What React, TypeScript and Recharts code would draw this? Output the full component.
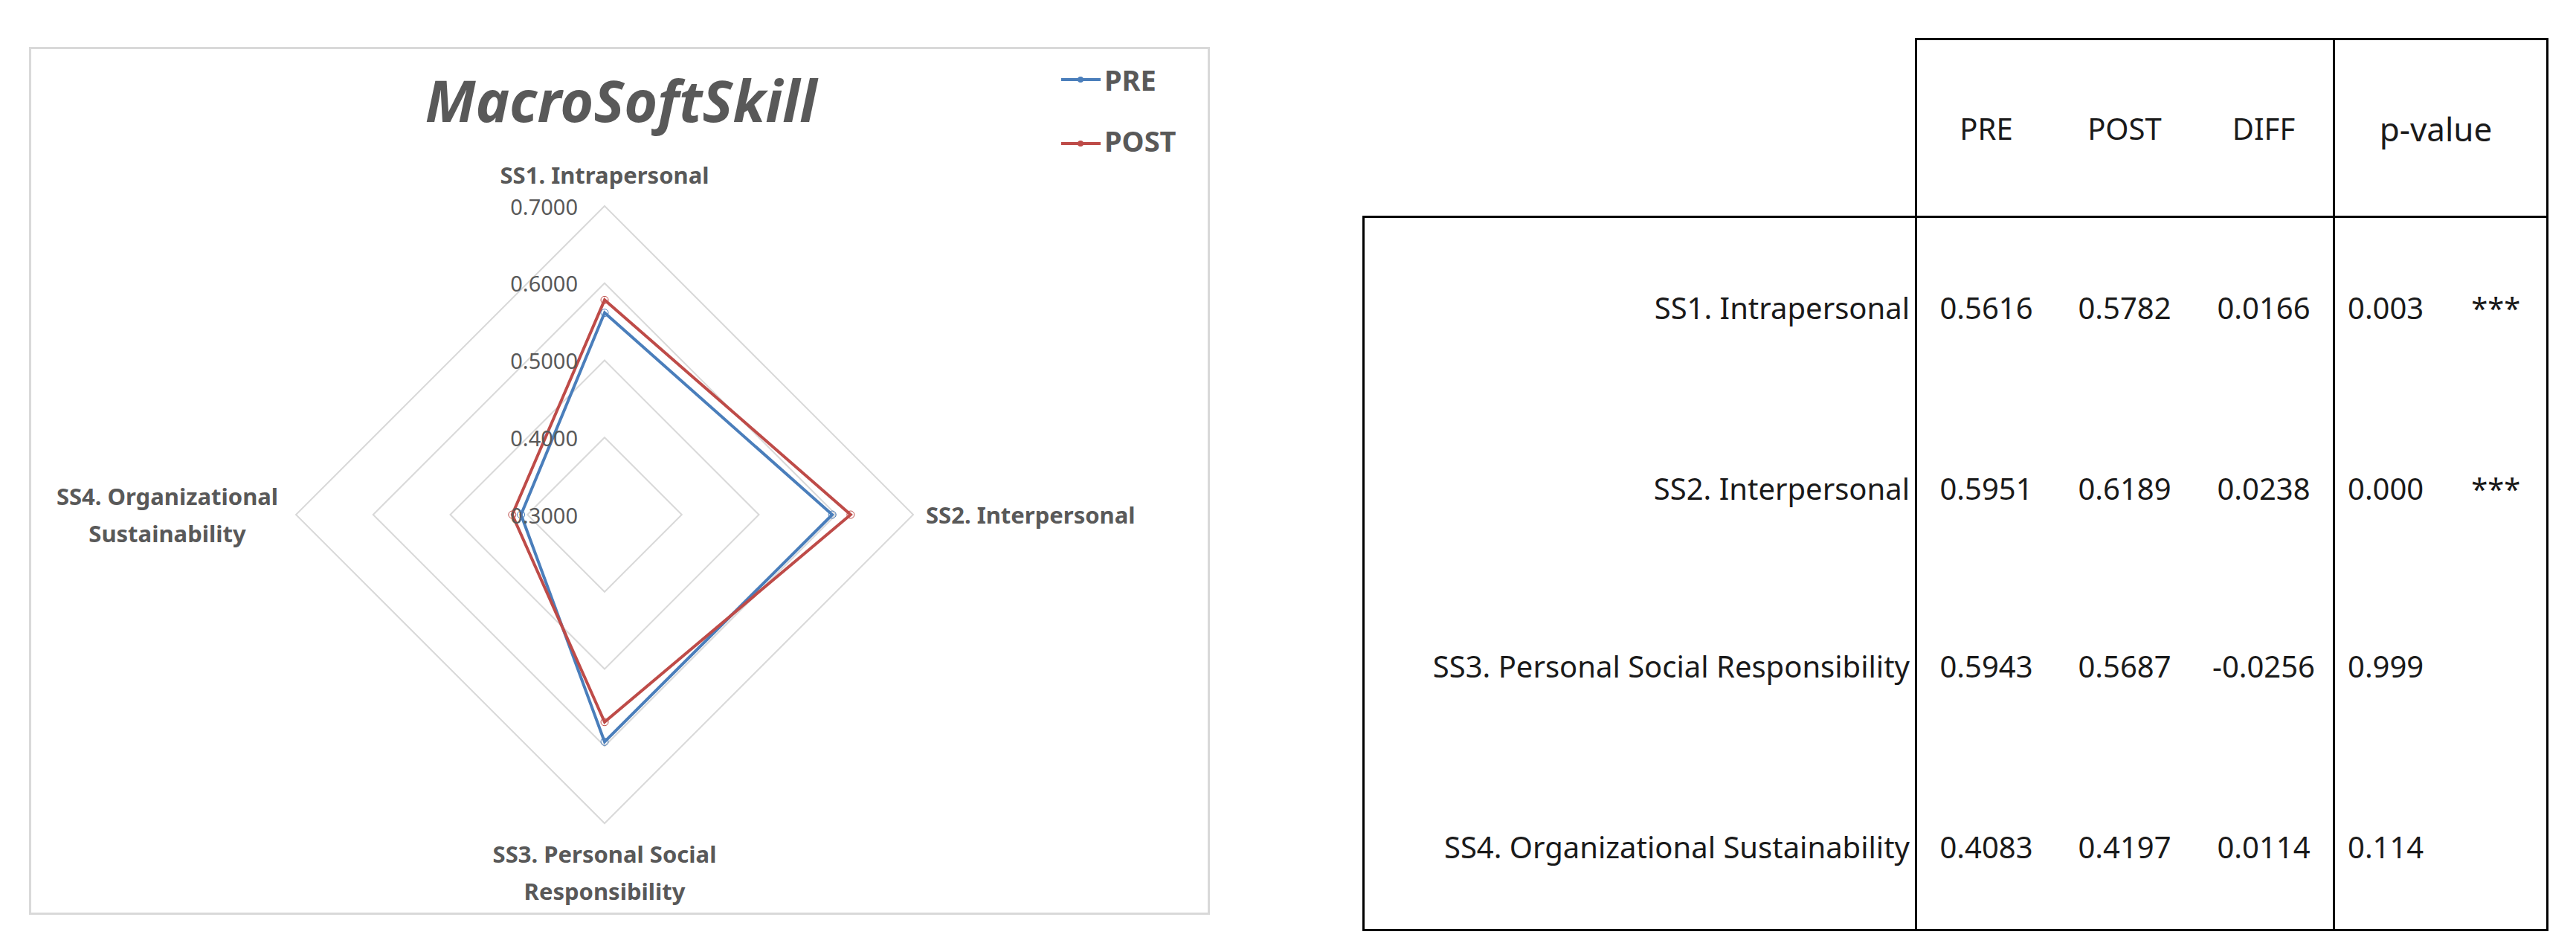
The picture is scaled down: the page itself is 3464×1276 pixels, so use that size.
import { RadarChart, Radar, PolarGrid, PolarAngleAxis, PolarRadiusAxis } from 'recharts'

// data
const categories = [
  'SS1. Intrapersonal',
  'SS2. Interpersonal',
  'SS3. Personal Social Responsibility',
  'SS4. Organizational Sustainability',
]
const axisLabelLines = [
  ['SS1. Intrapersonal'],
  ['SS2. Interpersonal'],
  ['SS3. Personal Social', 'Responsibility'],
  ['SS4. Organizational', 'Sustainability'],
]
const preValues = [0.5616, 0.5951, 0.5943, 0.4083]
const postValues = [0.5782, 0.6189, 0.5687, 0.4197]
const diffValues = [0.0166, 0.0238, -0.0256, 0.0114]
const pValues = [0.003, 0.0, 0.999, 0.114]
const significance = ['***', '***', '', '']
const radiusTicks = [0.3, 0.4, 0.5, 0.6, 0.7]
const tableHeaders = ['PRE', 'POST', 'DIFF']

const chartData = categories.map((skill, i) => ({ skill, pre: preValues[i], post: postValues[i] }))

const FONT = "'Noto Sans', 'Open Sans', sans-serif"
const GREY = '#595959'
const PRE_COLOR = '#4a7ebb'
const POST_COLOR = '#be4b48'

// radar geometry (container coords)
const CX = 805
const CY = 684
const R = 415

function AngleTick(props: any) {
  const { payload } = props
  const i = categories.indexOf(payload.value)
  const lines = axisLabelLines[i] ?? [String(payload.value)]
  const rad = (payload.coordinate * Math.PI) / 180
  const dx = Math.cos(rad)
  const dy = -Math.sin(rad)
  const lh = 50
  let x = CX
  let anchor = 'middle'
  let firstY = CY
  if (dy < -0.5) {
    firstY = CY - R - 42 - (lines.length - 1) * lh
  } else if (dy > 0.5) {
    firstY = CY + R + 41
  } else if (dx > 0.5) {
    x = CX + R + 17
    anchor = 'start'
    firstY = CY - ((lines.length - 1) * lh) / 2
  } else {
    x = CX - R - 173
    firstY = CY - ((lines.length - 1) * lh) / 2
  }
  return (
    <g>
      {lines.map((line, k) => (
        <text
          key={k}
          x={x}
          y={firstY + k * lh}
          textAnchor={anchor}
          dominantBaseline="central"
          fontFamily={FONT}
          fontSize={31}
          fontWeight={700}
          fill={GREY}
        >
          {line}
        </text>
      ))}
    </g>
  )
}

function RadiusTick(props: any) {
  const { x, y, payload } = props
  return (
    <text
      x={x - 36}
      y={y}
      textAnchor="end"
      dominantBaseline="central"
      fontFamily={FONT}
      fontSize={29}
      fill={GREY}
    >
      {Number(payload.value).toFixed(4)}
    </text>
  )
}

// table layout (container coords)
const TL = 1825
const TV1 = 2568
const TV2 = 3130
const TR = 3417
const TT = 44
const TH = 283
const TB = 1242
const headerY = 166
const rowY = [407, 650, 889, 1132]
const colCenters = [2663, 2849, 3036]

function hLine(x1: number, x2: number, y: number, key: string) {
  return (
    <div
      key={key}
      style={{ position: 'absolute', left: x1 - 1.5, top: y - 1.5, width: x2 - x1 + 3, height: 3, background: '#000' }}
    />
  )
}
function vLine(x: number, y1: number, y2: number, key: string) {
  return (
    <div
      key={key}
      style={{ position: 'absolute', left: x - 1.5, top: y1 - 1.5, width: 3, height: y2 - y1 + 3, background: '#000' }}
    />
  )
}

function cellStyle(y: number, size = 40): React.CSSProperties {
  return {
    position: 'absolute',
    top: y - 26,
    height: 50,
    lineHeight: '50px',
    fontFamily: FONT,
    fontSize: size,
    color: '#1a1a1a',
    whiteSpace: 'nowrap',
  }
}

function StatsTable() {
  return (
    <>
      {hLine(TV1, TR, TT, 't')}
      {hLine(TL, TR, TH, 'h')}
      {hLine(TL, TR, TB, 'b')}
      {vLine(TL, TH, TB, 'l')}
      {vLine(TV1, TT, TB, 'v1')}
      {vLine(TV2, TT, TB, 'v2')}
      {vLine(TR, TT, TB, 'r')}
      {tableHeaders.map((h, j) => (
        <div key={h} style={{ ...cellStyle(headerY), left: colCenters[j] - 90, width: 180, textAlign: 'center' }}>
          {h}
        </div>
      ))}
      <div style={{ ...cellStyle(headerY, 44), left: TV2, width: TR - TV2 - 12, textAlign: 'center' }}>p-value</div>
      {categories.map((c, i) => (
        <div key={c}>
          <div style={{ ...cellStyle(rowY[i]), left: TL, width: TV1 - TL - 8, textAlign: 'right' }}>{c}</div>
          {[preValues[i], postValues[i], diffValues[i]].map((v, j) => (
            <div key={j} style={{ ...cellStyle(rowY[i]), left: colCenters[j] - 90, width: 180, textAlign: 'center' }}>
              {v.toFixed(4)}
            </div>
          ))}
          <div style={{ ...cellStyle(rowY[i]), left: TV2 + 19, width: 260 }}>
            {pValues[i].toFixed(3)}
            {significance[i] && <span style={{ marginLeft: 64 }}>{significance[i]}</span>}
          </div>
        </div>
      ))}
    </>
  )
}

export default function App() {
  return (
    <div style={{ position: 'relative', width: 3448, height: 1260, background: '#fff' }}>
      {/* chart frame */}
      <div
        style={{
          position: 'absolute',
          left: 31,
          top: 55,
          width: 1588,
          height: 1167,
          border: '3px solid #d9d9d9',
          boxSizing: 'border-box',
        }}
      />
      <div style={{ position: 'absolute', left: 0, top: 0 }}>
        <RadarChart
          width={1640}
          height={1240}
          data={chartData}
          cx={CX}
          cy={CY}
          outerRadius={R}
          margin={{ top: 0, right: 0, bottom: 0, left: 0 }}
        >
          <PolarGrid gridType="polygon" radialLines={false} stroke="#d9d9d9" strokeWidth={2} />
          <PolarAngleAxis dataKey="skill" tick={<AngleTick />} tickLine={false} axisLine={false} />
          <PolarRadiusAxis
            angle={90}
            type="number"
            scale="linear"
            domain={[0.3, 0.7]}
            allowDataOverflow
            allowDecimals
            ticks={radiusTicks}
            tickCount={5}
            axisLine={false}
            tick={<RadiusTick />}
          />
          <Radar
            name="PRE"
            dataKey="pre"
            stroke={PRE_COLOR}
            strokeWidth={4}
            fill="none"
            fillOpacity={0}
            dot={{ r: 5, fill: PRE_COLOR, stroke: PRE_COLOR, strokeWidth: 1 }}
            isAnimationActive={false}
          />
          <Radar
            name="POST"
            dataKey="post"
            stroke={POST_COLOR}
            strokeWidth={4}
            fill="none"
            fillOpacity={0}
            dot={{ r: 5, fill: POST_COLOR, stroke: POST_COLOR, strokeWidth: 1 }}
            isAnimationActive={false}
          />
        </RadarChart>
      </div>
      {/* title and legend */}
      <svg width={1640} height={260} style={{ position: 'absolute', left: 0, top: 0, pointerEvents: 'none' }}>
        <text
          x={827}
          y={156}
          textAnchor="middle"
          fontFamily={FONT}
          fontSize={77}
          fontWeight={700}
          fontStyle="italic"
          fill={GREY}
        >
          MacroSoftSkill
        </text>
        {[
          { name: 'PRE', color: PRE_COLOR, y: 99, base: 114 },
          { name: 'POST', color: POST_COLOR, y: 185, base: 196 },
        ].map((it) => (
          <g key={it.name}>
            <line x1={1419} x2={1472} y1={it.y} y2={it.y} stroke={it.color} strokeWidth={4} />
            <circle cx={1445} cy={it.y} r={4} fill={it.color} />
            <text x={1477} y={it.base} fontFamily={FONT} fontSize={38} fontWeight={700} fill={GREY}>
              {it.name}
            </text>
          </g>
        ))}
      </svg>
      <StatsTable />
    </div>
  )
}
